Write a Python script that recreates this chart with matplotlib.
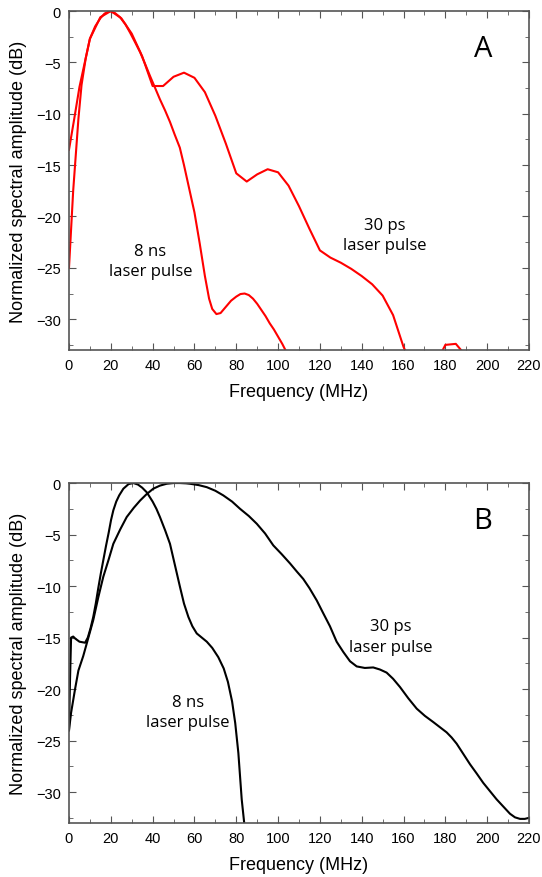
import matplotlib.pyplot as plt
from matplotlib.ticker import MultipleLocator

# Panel A (red): 30 ps pulse is sampled every 5 MHz, 8 ns pulse is smooth
freq_a_30ps = [0, 2.5, 5, 10, 15, 20, 25, 30, 35, 40, 45, 50, 55, 60, 65, 70, 75, 80, 85, 90,
               95, 100, 105, 110, 115, 120, 125, 130, 135, 140, 145, 150, 155, 160, 165, 170,
               175, 180, 185, 190, 195]
amp_a_30ps = [-13.5, -10.5, -7.4, -2.7, -0.6, 0, -0.7, -2.2, -4.4, -7.3, -7.3, -6.4, -6.0, -6.5,
              -7.9, -10.2, -12.9, -15.8, -16.6, -15.9, -15.4, -15.7, -17.0, -19.0, -21.2, -23.3,
              -24.0, -24.5, -25.1, -25.8, -26.6, -27.7, -29.6, -32.7, -35.0, -36.0, -34.5, -32.5,
              -32.4, -33.6, -36.0]

freq_a_8ns = [0, 2, 4.5, 6, 8, 10, 12.5, 15, 17, 19.5, 22, 24.4, 27, 29.2, 31.5, 34, 36.5, 38.7,
              41, 43.5, 46, 48.3, 50.5, 53, 55, 57.5, 60, 62.5, 65, 67, 68.5, 70.5, 72.5, 75,
              77.5, 80, 82, 84, 86, 88, 90, 92, 94, 96, 98, 100, 102, 104, 106, 108]
amp_a_8ns = [-25.0, -17.5, -10.5, -7.2, -4.6, -2.7, -1.5, -0.7, -0.25, 0, -0.2, -0.6, -1.3, -2.1,
             -3.0, -4.0, -5.2, -6.3, -7.4, -8.6, -9.7, -10.8, -12.0, -13.3, -15.0, -17.3, -19.6,
             -22.6, -25.8, -28.0, -29.0, -29.5, -29.4, -28.8, -28.2, -27.8, -27.55, -27.5, -27.65,
             -28.0, -28.5, -29.1, -29.7, -30.4, -31.0, -31.7, -32.4, -33.2, -34.0, -34.8]

# Panel B (black)
freq_b_8ns = [0, 0.5, 1, 2, 3, 5, 7.7, 9, 10.3, 11.6, 12.8, 14, 15.2, 16.4, 17.7, 19, 20.1, 21.2,
              22.6, 24, 26, 28.5, 30.8, 33, 35, 37.2, 40, 41.8, 43.5, 46, 48.3, 50.7, 53.1, 55,
              57.1, 59, 61.1, 63.5, 65.9, 68.5, 71.4, 74, 76, 78, 79.5, 81, 82.6, 83.8, 85]
amp_b_8ns = [-24.0, -19.0, -15.0, -14.9, -15.1, -15.4, -15.5, -15.0, -14.1, -13.0, -11.7, -10.2,
             -8.8, -7.5, -6.1, -4.8, -3.6, -2.65, -1.8, -1.2, -0.55, -0.1, 0, -0.15, -0.45, -0.9,
             -1.8, -2.5, -3.3, -4.6, -5.9, -8.0, -10.1, -11.7, -13.0, -13.9, -14.6, -15.0, -15.4,
             -16.0, -16.9, -18.0, -19.3, -21.2, -23.3, -26.2, -30.7, -33.0, -36.0]

freq_b_30ps = [0, 1, 2.9, 4.5, 6.8, 9, 11.6, 14, 16.4, 19, 21.2, 24.5, 27.6, 31, 34, 37, 40.3,
               43.5, 46.7, 50, 53, 56, 57.9, 62, 65.9, 70, 73.8, 78, 81.8, 86, 89.8, 93.8, 97.7,
               101.7, 105.7, 109, 112, 115, 118.5, 121.5, 124.8, 128, 131.2, 134.4, 137.6, 141.5,
               145.5, 148.7, 151.9, 155, 158.3, 162.3, 166.3, 170.2, 174.2, 177.4, 180.6, 183,
               185.4, 188.6, 191.8, 195, 198.1, 201.3, 204.5, 207.7, 210.9, 213.3, 215.7, 218, 220]
amp_b_30ps = [-24.0, -22.3, -20.0, -18.2, -16.8, -15.2, -13.3, -11.1, -9.1, -7.4, -5.9, -4.5, -3.3,
              -2.4, -1.7, -1.1, -0.55, -0.25, -0.07, 0, 0, -0.03, -0.07, -0.2, -0.4, -0.75, -1.2,
              -1.8, -2.5, -3.2, -3.95, -4.9, -6.05, -6.9, -7.8, -8.6, -9.3, -10.2, -11.4, -12.6,
              -13.9, -15.4, -16.4, -17.3, -17.8, -17.95, -17.9, -18.1, -18.4, -19.0, -19.8, -20.9,
              -21.9, -22.6, -23.2, -23.7, -24.2, -24.7, -25.3, -26.3, -27.3, -28.2, -29.1, -29.9,
              -30.7, -31.4, -32.1, -32.45, -32.6, -32.6, -32.5]

x_ticks = list(range(0, 221, 20))
y_ticks = [0, -5, -10, -15, -20, -25, -30]

label_font = "Liberation Sans"
note_font = "Open Sans"
spine_gray = "#555555"

fig = plt.figure(figsize=(5.42, 8.78), dpi=100)
ax_a = fig.add_axes([0.1273, 0.6002, 0.8487, 0.3861])
ax_b = fig.add_axes([0.1273, 0.0615, 0.8487, 0.3872])

ax_a.plot(freq_a_30ps, amp_a_30ps, color="#ff0000", lw=1.5)
ax_a.plot(freq_a_8ns, amp_a_8ns, color="#ff0000", lw=1.5)
ax_b.plot(freq_b_30ps, amp_b_30ps, color="black", lw=1.5)
ax_b.plot(freq_b_8ns, amp_b_8ns, color="black", lw=1.5)

for ax in (ax_a, ax_b):
    ax.set_xlim(0, 220)
    ax.set_ylim(-33, 0)
    ax.set_xticks(x_ticks)
    ax.set_yticks(y_ticks)
    ax.xaxis.set_minor_locator(MultipleLocator(10))
    ax.yaxis.set_minor_locator(MultipleLocator(2.5))
    ax.tick_params(which="both", direction="in", top=True, right=True,
                   color=spine_gray, labelsize=10.5, pad=6)
    ax.tick_params(which="major", length=5)
    ax.tick_params(which="minor", length=3)
    for lbl in ax.get_xticklabels() + ax.get_yticklabels():
        lbl.set_family(label_font)
    for spine in ax.spines.values():
        spine.set_color(spine_gray)
        spine.set_linewidth(1.2)
    ax.set_xlabel("Frequency (MHz)", family=label_font, fontsize=13, labelpad=8)
    ax.set_ylabel("Normalized spectral amplitude (dB)", family=label_font, fontsize=13, labelpad=6)

# Panel letters and pulse notes
ax_a.text(0.90, 0.89, "A", transform=ax_a.transAxes, ha="center", va="center",
          family=note_font, fontsize=21)
ax_b.text(0.90, 0.89, "B", transform=ax_b.transAxes, ha="center", va="center",
          family=note_font, fontsize=21)

ax_a.text(39, -24.3, "8 ns\nlaser pulse", ha="center", va="center", family=note_font,
          fontsize=12, linespacing=1.35)
ax_a.text(151, -21.8, "30 ps\nlaser pulse", ha="center", va="center", family=note_font,
          fontsize=12, linespacing=1.35)
ax_b.text(57, -22.2, "8 ns\nlaser pulse", ha="center", va="center", family=note_font,
          fontsize=12, linespacing=1.35)
ax_b.text(154, -14.9, "30 ps\nlaser pulse", ha="center", va="center", family=note_font,
          fontsize=12, linespacing=1.35)

plt.savefig("out.png", dpi=100)
